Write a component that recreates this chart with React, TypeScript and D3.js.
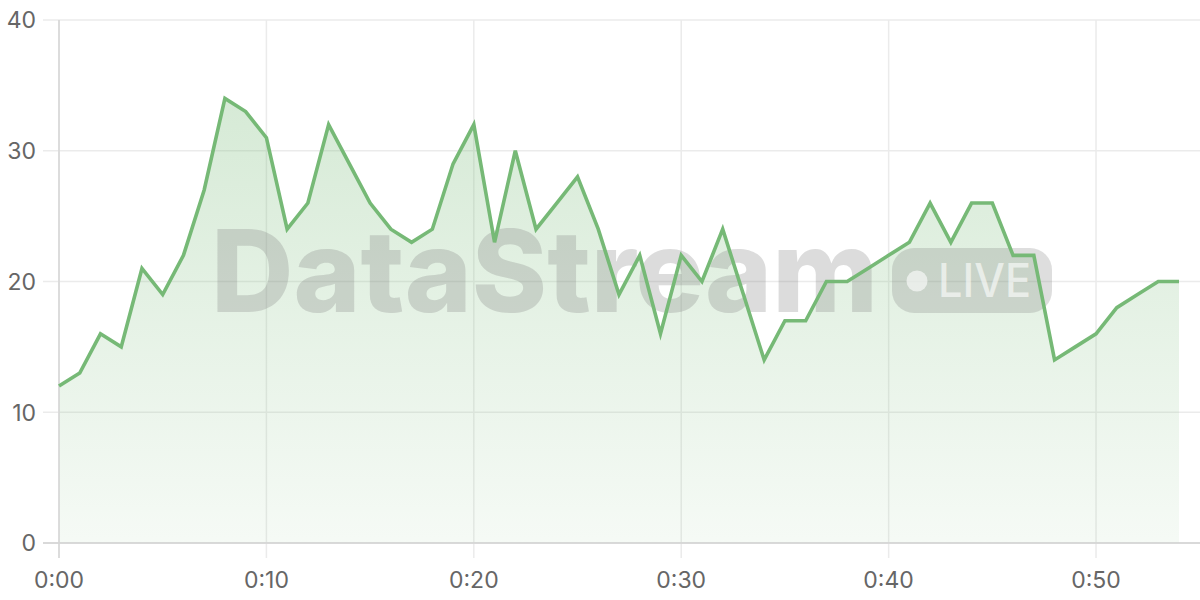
import * as d3 from 'd3'

// per-minute readings, 0:00 .. 0:54
const minutes = d3.range(0, 55)
const values = [
  12, 13, 16, 15, 21, 19, 22, 27, 34, 33,
  31, 24, 26, 32, 29, 26, 24, 23, 24, 29,
  32, 23, 30, 24, 26, 28, 24, 19, 22, 16,
  22, 20, 24, 19, 14, 17, 17, 20, 20, 21,
  22, 23, 26, 23, 26, 26, 22, 22, 14, 15,
  16, 18, 19, 20, 20,
]
const yTicks = [0, 10, 20, 30, 40]
const xTicks = [0, 10, 20, 30, 40, 50]

const W = 1200
const H = 600
const LINE = '#76b976'
const FONT = 'Inter, "Noto Sans", sans-serif'

type Pt = { m: number; v: number }

export default function App() {
  const x = d3.scaleLinear().domain([0, 54]).range([59, 1179])
  const y = d3.scaleLinear().domain([0, 40]).range([543, 20])

  const pts: Pt[] = minutes.map((m, i) => ({ m, v: values[i] }))
  const line = d3.line<Pt>().x(d => x(d.m)).y(d => y(d.v))
  const area = d3.area<Pt>()
    .x(d => x(d.m))
    .y0(y(0))
    .y1(d => y(d.v))

  // minutes -> "h:mm"
  const fmt = (m: number) => `${Math.floor(m / 60)}:${String(m % 60).padStart(2, '0')}`

  return (
    <svg width={W} height={H} style={{ position: 'absolute', left: 0, top: 0 }} fontFamily={FONT}>
      <defs>
        <linearGradient id="fill" gradientUnits="userSpaceOnUse" x1="0" y1={y(40)} x2="0" y2={y(0)}>
          <stop offset="0%" stopColor={LINE} stopOpacity={0.34} />
          <stop offset="100%" stopColor={LINE} stopOpacity={0.07} />
        </linearGradient>
      </defs>

      {/* grid */}
      {yTicks.map(t => (
        <line key={'gy' + t} x1={43} x2={W} y1={y(t)} y2={y(t)} stroke="#ebebeb" strokeWidth={1.5} />
      ))}
      {xTicks.map(t => (
        <line key={'gx' + t} x1={x(t)} x2={x(t)} y1={y(40)} y2={558} stroke="#ebebeb" strokeWidth={1.5} />
      ))}

      <path d={area(pts) ?? ''} fill="url(#fill)" />

      {/* watermark */}
      <g>
        <text x={211} y={312} fontSize={114} fontWeight={800} fill="#808080" fillOpacity={0.28}
          textLength={667} lengthAdjust="spacingAndGlyphs">DataStream</text>
        <rect x={892} y={248} width={160} height={65} rx={22} fill="#808080" fillOpacity={0.26} />
        <circle cx={917} cy={281} r={10.5} fill="#ffffff" fillOpacity={0.6} />
        <text x={938} y={297} fontSize={46} fontWeight={500} fill="#ffffff" fillOpacity={0.6}
          textLength={93} lengthAdjust="spacingAndGlyphs">LIVE</text>
      </g>

      {/* axes */}
      <line x1={43} x2={W} y1={y(0)} y2={y(0)} stroke="#d2d2d2" strokeWidth={1.5} />
      <line x1={x(0)} x2={x(0)} y1={y(40)} y2={558} stroke="#d6d6d6" strokeWidth={1.5} />

      <path d={line(pts) ?? ''} fill="none" stroke={LINE} strokeWidth={3.6} strokeLinejoin="miter" />

      {yTicks.map(t => (
        <text key={'ty' + t} x={36} y={y(t)} dy="0.36em" textAnchor="end" fontSize={23} fill="#666">{t}</text>
      ))}
      {xTicks.map(t => (
        <text key={'tx' + t} x={x(t)} y={588} textAnchor="middle" fontSize={23} fill="#666">{fmt(t)}</text>
      ))}
    </svg>
  )
}
